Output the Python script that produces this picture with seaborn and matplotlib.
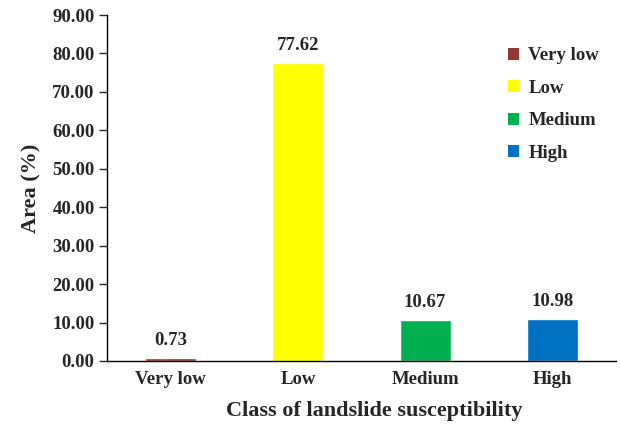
import matplotlib
matplotlib.use("Agg")
import matplotlib.pyplot as plt
import seaborn as sns
import pandas as pd
from matplotlib.patches import Patch

# --- Data ---
classes = ["Very low", "Low", "Medium", "High"]
area_pct = [0.73, 77.62, 10.67, 10.98]
colors = ["#953735", "#FFFF00", "#00B050", "#0070C0"]

TICK_SIZE = 13.5
LABEL_SIZE = 16

sns.set_theme(style="white")
plt.rcParams["font.family"] = ["Liberation Serif", "DejaVu Serif"]
plt.rcParams["font.weight"] = "bold"

df = pd.DataFrame({"Class": classes, "Area": area_pct})

fig = plt.figure(figsize=(6.2, 4.24), dpi=100)
ax = fig.add_axes([0.1726, 0.1486, 0.821, 0.816])

sns.barplot(data=df, x="Class", y="Area", hue="Class", palette=colors,
            order=classes, hue_order=classes, width=0.4, dodge=False,
            legend=False, ax=ax, saturation=1)

# value labels above bars
for i, v in enumerate(area_pct):
    ax.text(i, v + 2.3, f"{v:.2f}", ha="center", va="bottom",
            fontsize=TICK_SIZE, fontweight="bold")

ax.set_ylim(0, 90)
ax.set_xlim(-0.5, 3.5)
ax.set_yticks(range(0, 91, 10))
ax.set_yticklabels([f"{t:.2f}" for t in range(0, 91, 10)])
ax.tick_params(axis="y", direction="out", length=6, width=1, labelsize=TICK_SIZE, pad=3, left=True)
ax.tick_params(axis="x", length=0, labelsize=TICK_SIZE, pad=7)
for lab in ax.get_xticklabels() + ax.get_yticklabels():
    lab.set_fontweight("bold")

ax.set_xlabel("Class of landslide susceptibility", fontsize=LABEL_SIZE, fontweight="bold")
ax.xaxis.set_label_coords(0.525, -0.115)
ax.set_ylabel("Area (%)", fontsize=LABEL_SIZE, fontweight="bold", labelpad=8)

for side in ["top", "right"]:
    ax.spines[side].set_visible(False)
for side in ["left", "bottom"]:
    ax.spines[side].set_color("black")
    ax.spines[side].set_linewidth(1)

handles = [Patch(facecolor=c, edgecolor="none") for c in colors]
ax.legend(handles, classes, loc="upper right", bbox_to_anchor=(1.0, 0.955),
          frameon=False, handlelength=0.6, handleheight=0.6,
          handletextpad=0.5, labelspacing=0.82,
          prop={"size": TICK_SIZE, "weight": "bold"})

fig.savefig("out.png", dpi=100)
